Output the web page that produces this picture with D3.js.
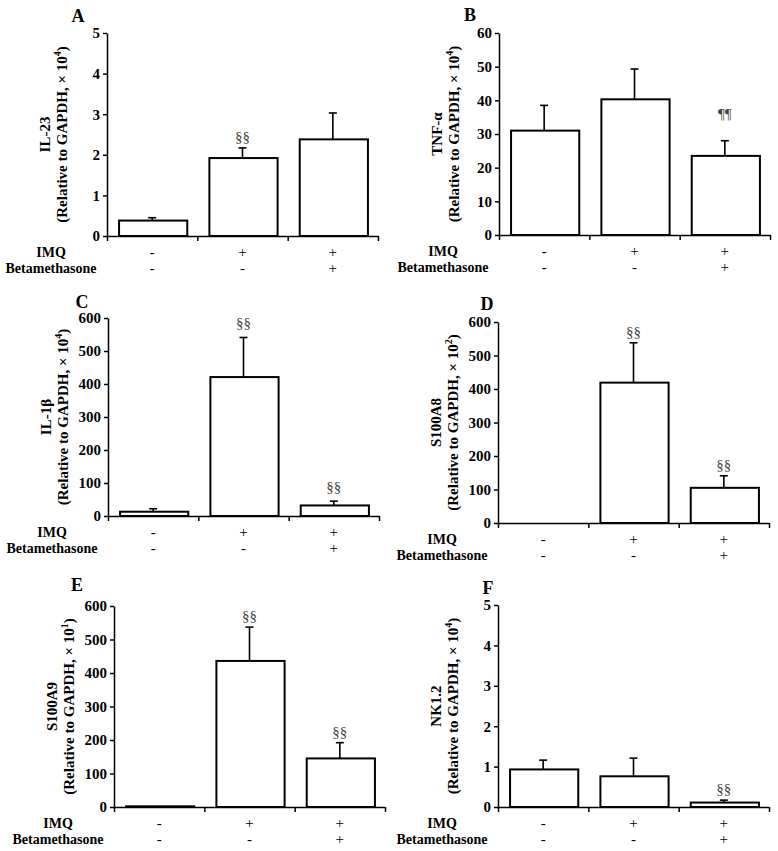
<!DOCTYPE html>
<meta charset="utf-8">
<title>IMQ / Betamethasone mRNA expression</title>
<style>
  body { margin: 0; background: white; }
  svg text { font-family: "Liberation Serif", "Times New Roman", serif; fill: #000; }
  .axis path, .axis line { stroke: #000; stroke-width: 1.5px; }
  .axis text { font-size: 15px; font-weight: bold; fill: #000; font-family: "Liberation Serif", serif; }
  .bar { fill: #fff; stroke: #000; stroke-width: 2px; }
  .err { stroke: #000; stroke-width: 1.6px; }
</style>
<svg width="778" height="851"></svg>
<script src="https://d3js.org/d3.v7.min.js"></script>
<script>
// treatment rows under each x axis
var groups = ["ctrl", "imq", "imqBeta"];
var imqRow = ["-", "+", "+"];
var betaRow = ["-", "-", "+"];

var letters = ["A", "B", "C", "D", "E", "F"];
var genes = ["IL-23", "TNF-\u03b1", "IL-1\u03b2", "S100A8", "S100A9", "NK1.2"];
var exponents = ["4", "4", "4", "2", "1", "4"];
var yMax = [5, 60, 600, 600, 600, 5];
var yStep = [1, 10, 100, 100, 100, 1];

// means and upper error (SEM)
var means = [
  [0.38, 1.92, 2.38],
  [31, 40.3, 23.5],
  [13, 421, 32],
  [0, 419, 105],
  [2, 436, 145],
  [0.93, 0.76, 0.11]
];
var sems = [
  [0.07, 0.25, 0.65],
  [7.5, 9, 4.5],
  [9, 120, 13],
  [0, 119, 36],
  [0, 101, 47],
  [0.23, 0.45, 0.06]
];
var marks = [
  ["", "\u00a7\u00a7", ""],
  ["", "", "\u00b6\u00b6"],
  ["", "\u00a7\u00a7", "\u00a7\u00a7"],
  ["", "\u00a7\u00a7", "\u00a7\u00a7"],
  ["", "\u00a7\u00a7", "\u00a7\u00a7"],
  ["", "", "\u00a7\u00a7"]
];

// where each panel sits on the page
var layout = [
  {x: 107, top: 33,  bottom: 236, lx: 78,  ly: 22,  gap: 6},
  {x: 499, top: 33,  bottom: 235, lx: 470, ly: 21,  gap: 22},
  {x: 108, top: 318, bottom: 516, lx: 82,  ly: 308, gap: 9},
  {x: 498, top: 322, bottom: 523, lx: 487, ly: 310, gap: 6},
  {x: 114, top: 606, bottom: 807, lx: 77,  ly: 591, gap: 6},
  {x: 498, top: 605, bottom: 807, lx: 488, ly: 594, gap: 6}
];
var plotW = 271;

var svg = d3.select("svg");

letters.forEach(function(letter, i) {
  var L = layout[i];
  var g = svg.append("g");

  var x = d3.scaleBand().domain(groups).range([L.x, L.x + plotW]).padding(0);
  var xEdge = d3.scaleLinear().domain([0, 3]).range([L.x, L.x + plotW]);
  var y = d3.scaleLinear().domain([0, yMax[i]]).range([L.bottom, L.top]);
  var barW = x.bandwidth() * 0.755;

  var rows = groups.map(function(k, j) {
    return {key: k, mean: means[i][j], sem: sems[i][j], mark: marks[i][j]};
  });

  // bars
  g.selectAll("rect.bar").data(rows.filter(function(d) { return d.mean > 0; }))
    .enter().append("rect")
    .attr("class", "bar")
    .attr("x", function(d) { return x(d.key) + (x.bandwidth() - barW) / 2 + 1; })
    .attr("width", barW)
    .attr("y", function(d) { return y(d.mean); })
    .attr("height", function(d) { return y(0) - y(d.mean); });

  // error bars (upper only)
  var eb = g.selectAll("g.eb").data(rows.filter(function(d) { return d.sem > 0; }))
    .enter().append("g").attr("class", "eb");
  eb.append("line").attr("class", "err")
    .attr("x1", function(d) { return x(d.key) + x.bandwidth() / 2; })
    .attr("x2", function(d) { return x(d.key) + x.bandwidth() / 2; })
    .attr("y1", function(d) { return y(d.mean); })
    .attr("y2", function(d) { return y(d.mean + d.sem); });
  eb.append("line").attr("class", "err")
    .attr("x1", function(d) { return x(d.key) + x.bandwidth() / 2 - 4; })
    .attr("x2", function(d) { return x(d.key) + x.bandwidth() / 2 + 4; })
    .attr("y1", function(d) { return y(d.mean + d.sem); })
    .attr("y2", function(d) { return y(d.mean + d.sem); });

  // significance marks
  g.selectAll("text.mark").data(rows.filter(function(d) { return d.mark; }))
    .enter().append("text")
    .attr("class", "mark")
    .attr("x", function(d) { return x(d.key) + x.bandwidth() / 2; })
    .attr("y", function(d) { return y(d.mean + d.sem) - L.gap; })
    .attr("text-anchor", "middle")
    .style("font-size", "15px")
    .style("fill", "#444")
    .text(function(d) { return d.mark; });

  // axes
  g.append("g").attr("class", "axis")
    .attr("transform", "translate(" + L.x + ",0)")
    .call(d3.axisLeft(y).tickValues(d3.range(0, yMax[i] + yStep[i] / 2, yStep[i]))
      .tickSize(4).tickSizeOuter(0).tickPadding(3).tickFormat(d3.format("d")));

  g.append("g").attr("class", "axis")
    .attr("transform", "translate(0," + L.bottom + ")")
    .call(d3.axisBottom(xEdge).tickValues([0, 1, 2, 3]).tickSize(5).tickSizeOuter(0).tickFormat(""));

  // treatment rows
  [[imqRow, "IMQ", 21], [betaRow, "Betamethasone", 37]].forEach(function(r) {
    g.append("text")
      .attr("x", L.x - 56).attr("y", L.bottom + r[2])
      .attr("text-anchor", "middle")
      .style("font-size", "14px").style("font-weight", "bold")
      .text(r[1]);
    g.selectAll(null).data(r[0]).enter().append("text")
      .attr("x", function(d, j) { return x(groups[j]) + x.bandwidth() / 2; })
      .attr("y", L.bottom + r[2])
      .attr("text-anchor", "middle")
      .style("font-size", "15px")
      .text(function(d) { return d; });
  });

  // y label, two lines
  var midY = (L.top + L.bottom) / 2;
  var lab = g.append("text")
    .attr("transform", "translate(" + (L.x - 62) + "," + midY + ") rotate(-90)")
    .attr("text-anchor", "middle")
    .attr("dominant-baseline", "central")
    .style("font-size", "15px").style("font-weight", "bold");
  lab.append("tspan").attr("x", 0).attr("y", 0).text(genes[i]);
  var l2 = lab.append("tspan").attr("x", 0).attr("y", 17);
  l2.append("tspan").text("(Relative to GAPDH, \u00d7 10");
  l2.append("tspan").attr("dy", -5).style("font-size", "10px").text(exponents[i]);
  l2.append("tspan").attr("dy", 5).text(")");

  // panel letter
  g.append("text")
    .attr("x", L.lx).attr("y", L.ly)
    .attr("text-anchor", "middle")
    .style("font-size", "18px").style("font-weight", "bold")
    .text(letter);
});
</script>
